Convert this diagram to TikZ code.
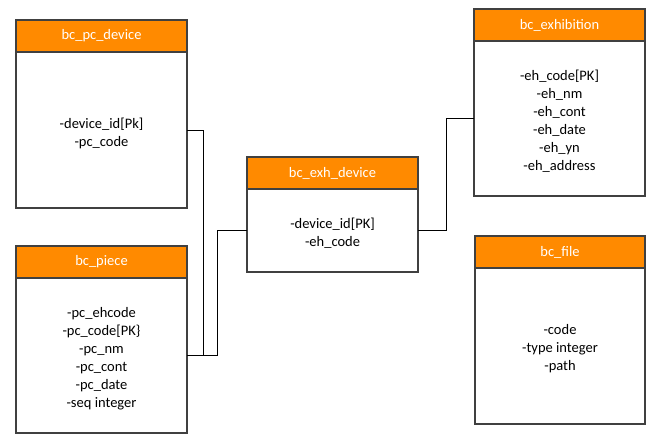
\documentclass[tikz,border=0pt]{standalone}
\usepackage{fontspec}
\setmainfont{Carlito}
\definecolor{hdr}{HTML}{FF8A00}
\definecolor{edge}{HTML}{404040}
\tikzset{
  hdrbox/.style={draw=edge, line width=1.2bp, fill=hdr, minimum height=32bp, inner sep=0pt, outer sep=0pt,
    text=white, font=\fontsize{14.5bp}{16bp}\selectfont, anchor=north west},
  bodybox/.style={draw=edge, line width=1.2bp, fill=white, inner sep=0pt, outer sep=0pt, anchor=north west},
  fieldtext/.style={inner sep=0pt, align=center, font=\fontsize{14.5bp}{18bp}\selectfont},
  link/.style={draw=black, line width=0.9bp}
}
\begin{document}
\begin{tikzpicture}[x=1bp,y=-1bp]
\useasboundingbox[fill=white] (0,0) rectangle (669,443);
% bc_pc_device
\node[hdrbox, minimum width=171bp] (pch) at (16,20) {bc\_pc\_device};
\node[bodybox, minimum width=171bp, minimum height=156bp] (pcb) at (pch.south west) {};
\node[fieldtext] (pct) at ([yshift=-3bp]pcb.center) {-device\_id[Pk]\\-pc\_code};
% bc_piece
\node[hdrbox, minimum width=171bp] (pih) at (16,246) {bc\_piece};
\node[bodybox, minimum width=171bp, minimum height=155bp] (pib) at (pih.south west) {};
\node[fieldtext] (pit) at ([yshift=-3bp]pib.center) {-pc\_ehcode\\-pc\_code[PK\}\\-pc\_nm\\-pc\_cont\\-pc\_date\\-seq integer};
% bc_exh_device
\node[hdrbox, minimum width=171bp] (exh) at (247,157) {bc\_exh\_device};
\node[bodybox, minimum width=171bp, minimum height=83bp] (exb) at (exh.south west) {};
\node[fieldtext] (ext) at ([yshift=-3bp]exb.center) {-device\_id[PK]\\-eh\_code};
% bc_exhibition
\node[hdrbox, minimum width=171bp] (ehh) at (474,9) {bc\_exhibition};
\node[bodybox, minimum width=171bp, minimum height=155bp] (ehb) at (ehh.south west) {};
\node[fieldtext] (eht) at ([yshift=-3bp]ehb.center) {-eh\_code[PK]\\-eh\_nm\\-eh\_cont\\-eh\_date\\-eh\_yn\\-eh\_address};
% bc_file
\node[hdrbox, minimum width=170bp] (fih) at (475,236) {bc\_file};
\node[bodybox, minimum width=170bp, minimum height=156bp] (fib) at (fih.south west) {};
\node[fieldtext] (fit) at ([yshift=-3bp]fib.center) {-code\\-type integer\\-path};
% connectors
\draw[link] (pcb.east) -- ++(16,0) |- (pib.east);
\draw[link] (pib.east) -- ++(30,0) |- (exb.west);
\draw[link] (exb.east) -- ++(28,0) |- (ehb.west);
\end{tikzpicture}
\end{document}
